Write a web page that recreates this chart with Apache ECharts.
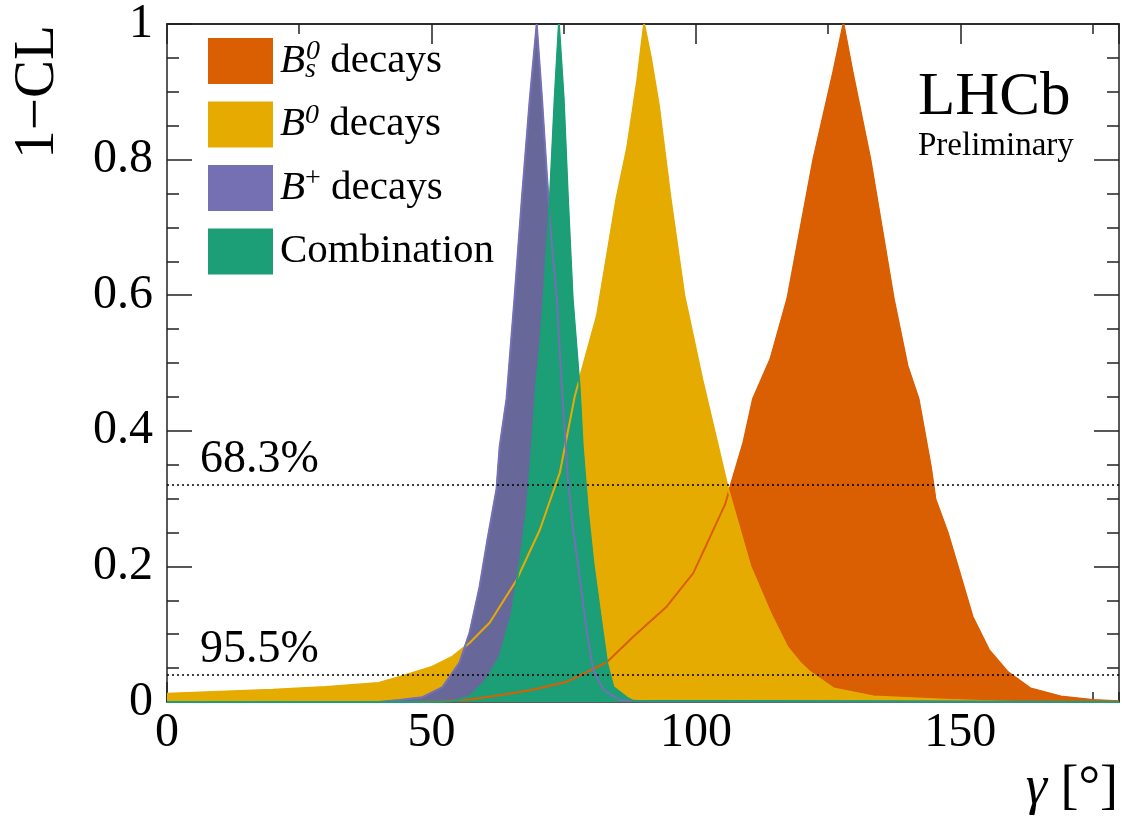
<!DOCTYPE html>
<html><head><meta charset="utf-8">
<script src="https://cdn.jsdelivr.net/npm/echarts@6/dist/echarts.min.js"></script>
<style>html,body{margin:0;padding:0;background:#fff}#c{width:1122px;height:819px}</style>
</head><body><div id="c"></div>
<script>
// ---- data ----
const bsGamma = [0, 45, 52, 57.6, 62.9, 69.2, 75.6, 79.4, 83.2, 88.1, 94.5, 99.5, 102, 105.5, 106.5, 109, 110.8, 114.1, 117.3, 122.2, 126, 127.9, 129.6, 133, 137.4, 140, 142.1, 144.4, 145.3, 147.6, 149.5, 152.3, 155.4, 159, 163.3, 169, 175, 180];
const bsP = [0, 0, 0.001, 0.004, 0.01, 0.018, 0.03, 0.044, 0.059, 0.096, 0.141, 0.19, 0.232, 0.291, 0.317, 0.383, 0.447, 0.506, 0.595, 0.8, 0.93, 1, 0.93, 0.8, 0.595, 0.496, 0.447, 0.348, 0.299, 0.25, 0.2, 0.126, 0.077, 0.044, 0.02, 0.008, 0.003, 0.001];

const b0Gamma = [0, 10, 20, 30, 40, 44, 50.2, 54, 57.2, 61, 66.1, 70.5, 74.3, 77.1, 81.3, 85, 87, 88.9, 90.2, 91.5, 93, 95.2, 97.8, 101.2, 106.1, 110.3, 114.1, 117.3, 119.7, 121.6, 126, 133.6, 148, 160];
const b0P = [0.012, 0.015, 0.018, 0.022, 0.028, 0.037, 0.052, 0.067, 0.087, 0.117, 0.18, 0.254, 0.339, 0.451, 0.57, 0.743, 0.817, 0.916, 1, 0.95, 0.88, 0.743, 0.6, 0.476, 0.314, 0.2, 0.131, 0.081, 0.058, 0.044, 0.02, 0.008, 0.003, 0];

const bpGamma = [0, 40, 44, 48.3, 52.1, 55.3, 57.2, 59.1, 60.6, 62.3, 62.9, 64.2, 65.7, 67.1, 68.6, 69.9, 70.9, 71.8, 72.7, 73.7, 74.6, 75.8, 76.8, 78.1, 79.4, 80.6, 82.5, 85.6, 90, 180];
const bpP = [0, 0, 0.003, 0.007, 0.022, 0.058, 0.102, 0.17, 0.24, 0.314, 0.377, 0.447, 0.595, 0.743, 0.89, 1, 0.89, 0.78, 0.68, 0.595, 0.472, 0.328, 0.254, 0.18, 0.102, 0.047, 0.018, 0.003, 0.001, 0];

const cbGamma = [0, 50, 54, 57.2, 60.4, 62.9, 65.2, 66.7, 68, 69, 69.9, 70.5, 71.2, 72.4, 73.3, 74.1, 75, 75.8, 76.7, 78, 78.6, 79.6, 80.6, 81.9, 83.2, 84.4, 86.9, 88, 180];
const cbP = [0, 0, 0.001, 0.008, 0.033, 0.067, 0.131, 0.206, 0.28, 0.377, 0.476, 0.52, 0.595, 0.743, 0.89, 1, 0.89, 0.743, 0.595, 0.466, 0.377, 0.28, 0.206, 0.131, 0.058, 0.022, 0.007, 0.002, 0];

const seriesNames = ['Bs', 'B0', 'Bp', 'Comb'];
const legendLabels = {
  Bs: '{it|B}{sub|s}{sup|0} decays',
  B0: '{it|B}{sup|0} decays',
  Bp: '{it|B}{supp|+} decays',
  Comb: 'Combination'
};
const clLevels = [0.317, 0.045];
const clLabels = ['68.3%', '95.5%'];

// ---- styling ----
const FONT = '"Liberation Serif","Times New Roman",serif';
const fillColors = { Bs: '#DA5F02', B0: '#E5AB01', Bp: '#68679A', Comb: '#1C9E77' };
const lineColors = { Bs: '#DA5F02', B0: '#E6AB02', Bp: '#7570B3', Comb: '#1C9E77' };
const legendColors = { Bs: '#DA5F02', B0: '#E5AB01', Bp: '#7570B3', Comb: '#1C9E77' };

const zip = (xs, ys) => xs.map((x, i) => [x, ys[i]]);
const dataMap = {
  Bs: zip(bsGamma, bsP),
  B0: zip(b0Gamma, b0P),
  Bp: zip(bpGamma, bpP),
  Comb: zip(cbGamma, cbP)
};

const axisCol = '#222';
function xAx(pos, interval, len, labels) {
  return {
    type: 'value', min: 0, max: 180, interval: interval, position: pos,
    axisLine: { show: labels || pos === 'top', onZero: false, lineStyle: { color: axisCol, width: 1.5 } },
    axisTick: { inside: true, length: len, lineStyle: { color: axisCol, width: 1.5 } },
    axisLabel: labels ? { fontSize: 48, fontFamily: FONT, color: '#000', margin: 7, showMaxLabel: false } : { show: false },
    splitLine: { show: false }
  };
}
function yAx(pos, labels) {
  return {
    type: 'value', min: 0, max: 1, interval: 0.2, position: pos,
    axisLine: { show: true, onZero: false, lineStyle: { color: axisCol, width: 1.5 } },
    axisTick: { inside: true, length: 25, lineStyle: { color: axisCol, width: 1.5 } },
    minorTick: { show: true, splitNumber: 4, length: 12, lineStyle: { color: axisCol, width: 1.5 } },
    axisLabel: labels ? { fontSize: 48, fontFamily: FONT, color: '#000', margin: 14 } : { show: false },
    splitLine: { show: false }, minorSplitLine: { show: false }
  };
}

const series = [];
seriesNames.forEach(n => {
  series.push({
    name: n, type: 'line', data: dataMap[n], showSymbol: false, symbol: 'none',
    lineStyle: { color: fillColors[n], width: 1 },
    itemStyle: { color: fillColors[n] },
    areaStyle: { color: fillColors[n], opacity: 1 },
    silent: true
  });
});
seriesNames.forEach((n, i) => {
  const s = {
    name: n + '_line', type: 'line', data: dataMap[n], showSymbol: false, symbol: 'none',
    lineStyle: { color: lineColors[n], width: 2 }, silent: true
  };
  if (i === seriesNames.length - 1) {
    s.markLine = {
      silent: true, symbol: 'none', animation: false,
      lineStyle: { color: '#000', type: [2, 3], width: 1.5 },
      data: clLevels.map((v, k) => ({
        yAxis: v,
        label: {
          show: true, position: 'insideStartTop', formatter: clLabels[k],
          fontSize: 46, fontFamily: FONT, color: '#000', distance: [33, 2]
        }
      }))
    };
  }
  series.push(s);
});

const option = {
  animation: false,
  grid: { left: 167, right: 3, top: 24, bottom: 117 },
  xAxis: [xAx('bottom', 50, 20, true), xAx('bottom', 25, 10, false), xAx('top', 50, 20, false), xAx('top', 25, 10, false)],
  yAxis: [yAx('left', true), yAx('right', false)],
  legend: {
    data: seriesNames.map(n => ({ name: n, icon: 'rect', itemStyle: { color: legendColors[n], borderWidth: 0 } })),
    orient: 'vertical', left: 203, top: 33, itemWidth: 65, itemHeight: 46, itemGap: 17.5,
    selectedMode: false,
    formatter: n => legendLabels[n],
    textStyle: {
      fontFamily: FONT, fontSize: 41, color: '#000', lineHeight: 46, padding: [0, 0, 0, 2],
      rich: {
        it: { fontFamily: FONT, fontSize: 41, fontStyle: 'italic', color: '#000', lineHeight: 46, verticalAlign: 'middle' },
        sup: { fontFamily: FONT, fontSize: 28, fontStyle: 'italic', color: '#000', lineHeight: 28, verticalAlign: 'top' },
        supp: { fontFamily: FONT, fontSize: 28, color: '#000', lineHeight: 28, verticalAlign: 'top' },
        sub: { fontFamily: FONT, fontSize: 28, fontStyle: 'italic', color: '#000', lineHeight: 28, verticalAlign: 'bottom', width: 1 }
      }
    }
  },
  graphic: [
    { type: 'text', x: 918, y: 98, style: { text: 'LHCb', fontFamily: FONT, fontSize: 61, fill: '#000', align: 'left', verticalAlign: 'middle' } },
    { type: 'text', x: 918, y: 146, style: { text: 'Preliminary', fontFamily: FONT, fontSize: 33, fill: '#000', align: 'left', verticalAlign: 'middle' } },
    { type: 'text', x: 38, y: 92, rotation: Math.PI / 2, style: { text: '1\u2212CL', fontFamily: FONT, fontSize: 57, fill: '#000', align: 'center', verticalAlign: 'middle' } },
    { type: 'text', x: 1118, y: 789, style: { text: '{g|\u03b3} [\u00b0]', fontFamily: FONT, fontSize: 54, fill: '#000', align: 'right', verticalAlign: 'middle',
        rich: { g: { fontFamily: FONT, fontSize: 54, fontStyle: 'italic', fill: '#000' } } } }
  ],
  series: series
};

const chart = echarts.init(document.getElementById('c'), null, { renderer: 'canvas' });
chart.setOption(option);
</script>
</body></html>
